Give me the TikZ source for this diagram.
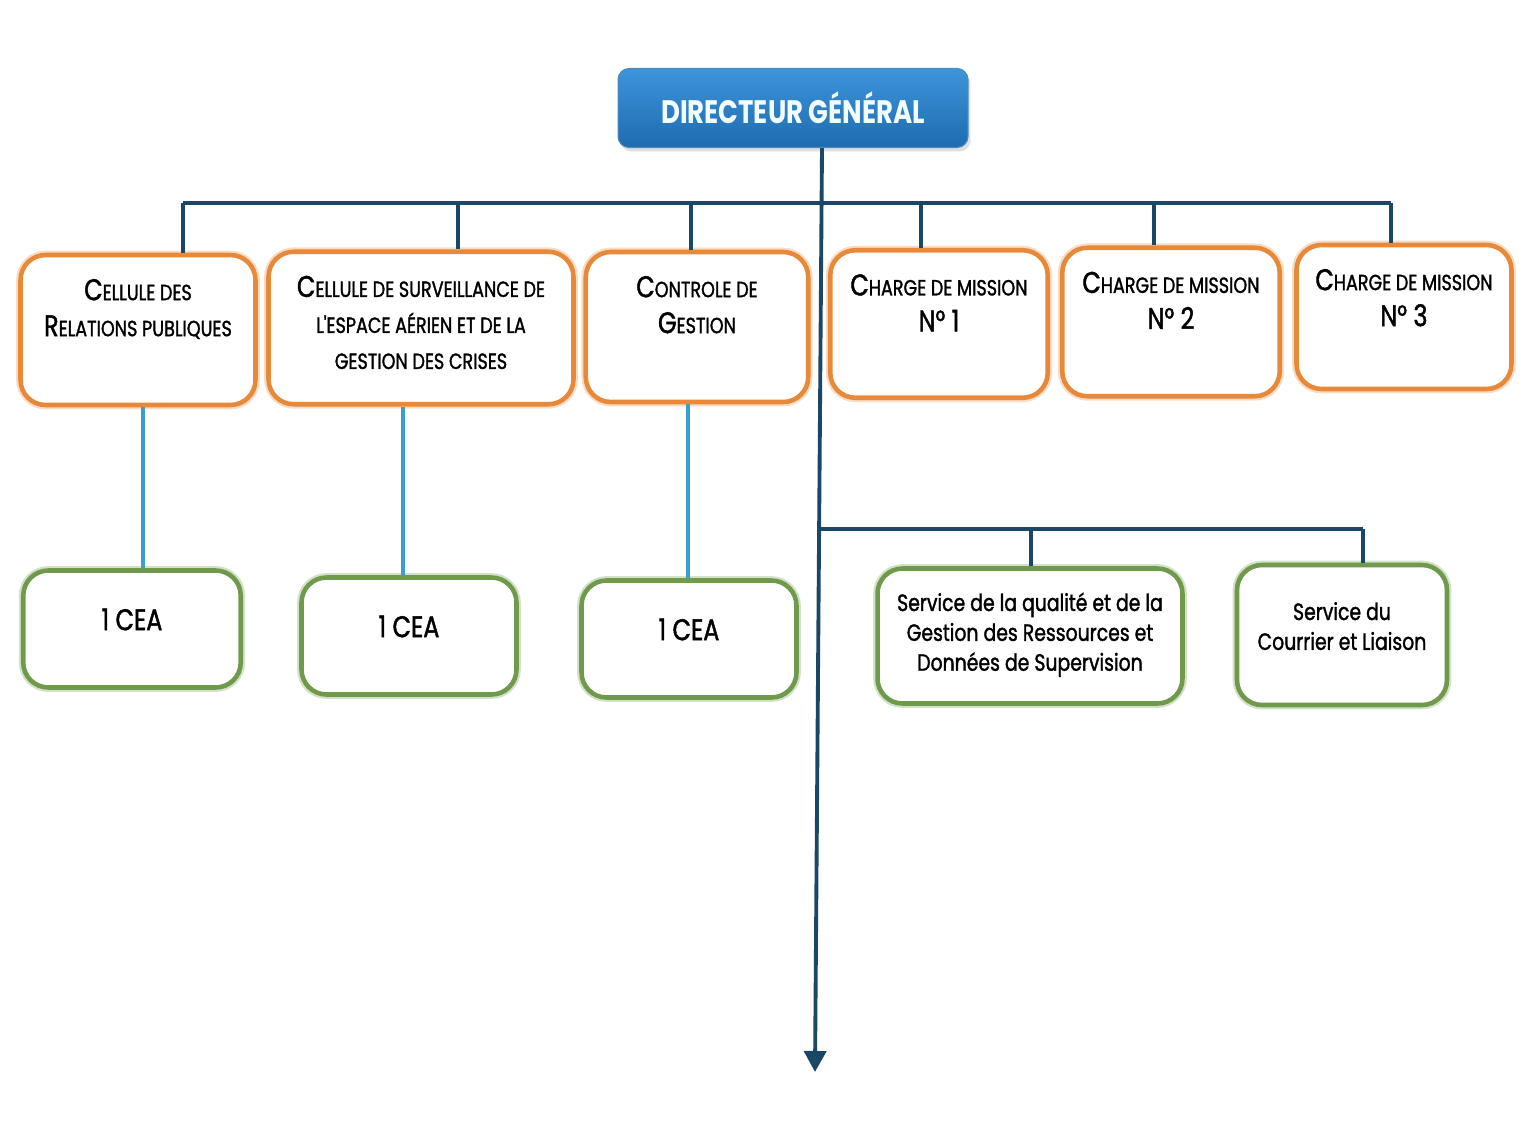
\documentclass[tikz,border=0pt]{standalone}
\usepackage{fontspec}
\setmainfont{Poppins}[FakeStretch=0.8]
\newfontfamily\boxfont{Poppins}[FakeStretch=0.8, FakeBold=1.4]
\usetikzlibrary{arrows.meta,shadows}

\definecolor{dgtop}{HTML}{3D95DA}
\definecolor{dgbot}{HTML}{1E6BB0}
\definecolor{navy}{HTML}{1B4766}
\definecolor{orgline}{HTML}{E8893A}
\definecolor{grnline}{HTML}{6F9A4C}
\definecolor{skyline}{HTML}{3A9FD0}

% smaller capitals for the orange titles
\newcommand{\smcap}[1]{{\fontsize{12.5}{20.5}\selectfont #1}}

\begin{document}
\begin{tikzpicture}[
    x=0.02cm, y=-0.02cm,
    dgbox/.style={rectangle, rounded corners=0.22cm, top color=dgtop,
                  bottom color=dgbot, draw=dgbot!80, line width=0.6pt,
                  drop shadow={opacity=0.25, shadow xshift=0.05cm, shadow yshift=-0.08cm},
                  text=white!95!cyan, font=\fontsize{18.5}{22}\selectfont\bfseries,
                  minimum width=7.0cm, minimum height=1.58cm},
    orgbox/.style={rectangle, rounded corners=0.5cm, draw=orgline, fill=white,
                   line width=2.6pt,
                   preaction={draw=orgline!30, line width=5pt}},
    grnbox/.style={rectangle, rounded corners=0.5cm, draw=grnline, fill=white,
                   line width=2.6pt,
                   preaction={draw=grnline!30, line width=5pt}},
    orgtxt/.style={anchor=north, inner sep=0pt, align=center, yshift=-0.52cm,
                   font=\boxfont\fontsize{17}{20.5}\selectfont},
    grntxt/.style={anchor=north, inner sep=0pt, align=center,
                   font=\boxfont\fontsize{13.4}{17}\selectfont},
    trunk/.style={draw=navy, line width=2.2pt},
    link/.style={draw=skyline, line width=2pt}
]
\useasboundingbox (0,0) rectangle (1536,1147);
\fill[white] (0,0) rectangle (1536,1147);

% top of the chart
\node[dgbox] (dg) at (793,108) {DIRECTEUR GÉNÉRAL};

% first row
\node[orgbox, minimum width=4.7cm, minimum height=3.0cm] (cel1) at (138,330) {};
\node[orgbox, minimum width=6.1cm, minimum height=3.05cm] (cel2) at (421,328) {};
\node[orgbox, minimum width=4.45cm, minimum height=3.0cm] (ctg) at (697,327) {};
\node[orgbox, minimum width=4.35cm, minimum height=2.95cm] (cdm1) at (939,324) {};
\node[orgbox, minimum width=4.35cm, minimum height=2.97cm] (cdm2) at (1171,322) {};
\node[orgbox, minimum width=4.3cm, minimum height=2.88cm] (cdm3) at (1404,317) {};

\node[orgtxt] (cel1t) at (cel1.north) {C\smcap{ELLULE DES}\\R\smcap{ELATIONS PUBLIQUES}};
\node[orgtxt] (cel2t) at (cel2.north) {C\smcap{ELLULE DE SURVEILLANCE DE}\\\smcap{L'ESPACE AÉRIEN ET DE LA}\\\smcap{GESTION DES CRISES}};
\node[orgtxt] (ctgt) at (ctg.north) {C\smcap{ONTROLE DE}\\G\smcap{ESTION}};
\node[orgtxt] (cdm1t) at (cdm1.north) {C\smcap{HARGE DE MISSION}\\N° 1};
\node[orgtxt] (cdm2t) at (cdm2.north) {C\smcap{HARGE DE MISSION}\\N° 2};
\node[orgtxt] (cdm3t) at (cdm3.north) {C\smcap{HARGE DE MISSION}\\N° 3};

% second row
\node[grnbox, minimum width=4.35cm, minimum height=2.34cm] (cea1) at (132,629) {};
\node[grnbox, minimum width=4.3cm, minimum height=2.34cm] (cea2) at (409,636) {};
\node[grnbox, minimum width=4.3cm, minimum height=2.34cm] (cea3) at (689,639) {};
\node[grnbox, minimum width=6.1cm, minimum height=2.7cm] (sqg) at (1030,636) {};
\node[grnbox, minimum width=4.2cm, minimum height=2.8cm] (scl) at (1342,635) {};

\node[grntxt, font=\boxfont\fontsize{17}{20}\selectfont, yshift=-0.8cm] (cea1t) at (cea1.north) {1 CEA};
\node[grntxt, font=\boxfont\fontsize{17}{20}\selectfont, yshift=-0.8cm] (cea2t) at (cea2.north) {1 CEA};
\node[grntxt, font=\boxfont\fontsize{17}{20}\selectfont, yshift=-0.8cm] (cea3t) at (cea3.north) {1 CEA};
\node[grntxt, yshift=-0.52cm] (sqgt) at (sqg.north) {Service de la qualité et de la\\Gestion des Ressources et\\Données de Supervision};
\node[grntxt, yshift=-0.78cm] (sclt) at (scl.north) {Service du\\Courrier et Liaison};

% connectors
\coordinate (dgfoot) at (822,0);
\coordinate (tip) at (815,1072);
\draw[trunk, -{Triangle[width=0.44cm,length=0.42cm]}] (dgfoot |- dg.south) -- (tip);
\draw[trunk] (183,203) coordinate (busl) -- (1391,203) coordinate (busr);
\foreach \x/\b in {183/cel1, 458/cel2, 691/ctg, 921/cdm1, 1154/cdm2, 1391/cdm3} {
  \coordinate (j\b) at (\x,203);
  \draw[trunk] (j\b) -- (j\b |- \b.north);
}
\draw[trunk] (819,529) coordinate (subl) -- (1363,529) coordinate (subr);
\foreach \x/\b in {1031/sqg, 1363/scl} {
  \coordinate (k\b) at (\x,529);
  \draw[trunk] (k\b) -- (k\b |- \b.north);
}
\foreach \x/\a/\b in {143/cel1/cea1, 403/cel2/cea2, 688/ctg/cea3} {
  \coordinate (m\b) at (\x,0);
  \draw[link] (m\b |- \a.south) -- (m\b |- \b.north);
}
\end{tikzpicture}
\end{document}
